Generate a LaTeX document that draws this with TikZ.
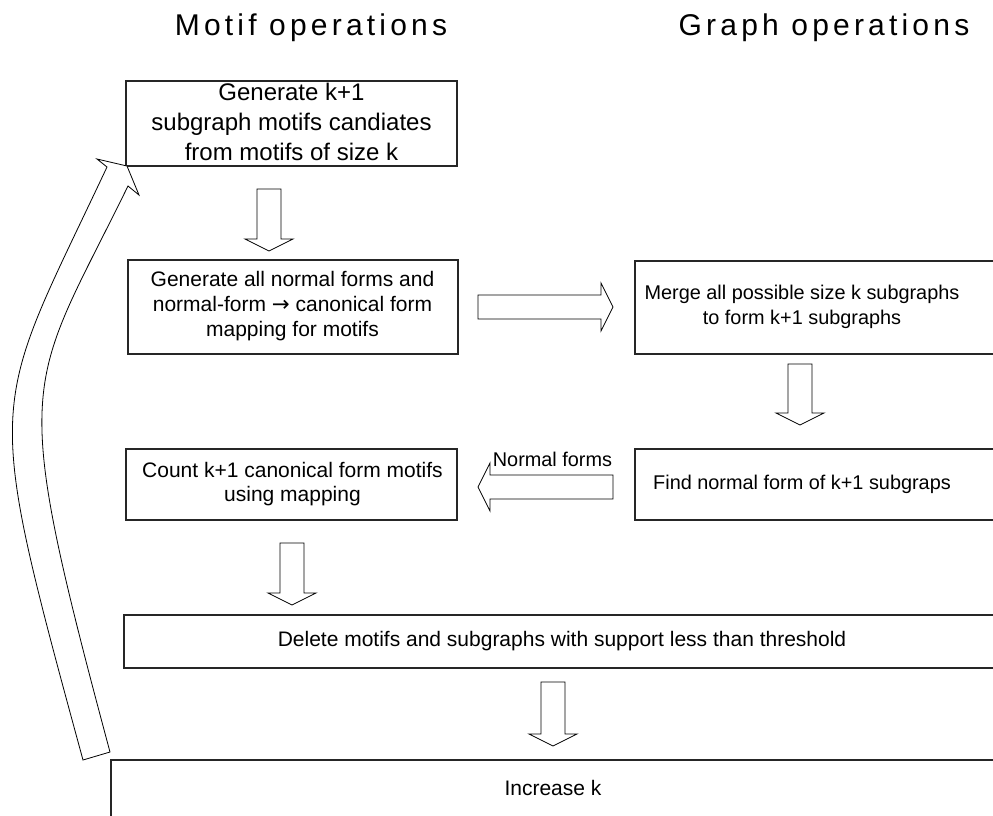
\documentclass[tikz,border=0pt]{standalone}
\usepackage{fontspec}
\setmainfont{Liberation Sans}
\newfontfamily\titlefont[LetterSpace=14]{Liberation Sans}
\newfontfamily\arrowfont{DejaVu Sans}
\newcommand\dnarrow[3]{\draw[blk] (#1-12,#2) -- (#1+12,#2) -- (#1+12,#3-12) -- (#1+24,#3-12) -- (#1,#3) -- (#1-24,#3-12) -- (#1-12,#3-12) -- cycle;}
\begin{document}
\begin{tikzpicture}[x=0.75pt,y=-0.75pt,
  box/.style={draw=black!85, line width=0.9pt, rectangle, inner sep=0pt, outer sep=0pt},
  blk/.style={draw=black, line width=0.6pt, fill=white, line join=miter},
  lbl/.style={font=\fontsize{15.75}{18.5}\selectfont, align=center, inner sep=0pt},
  sml/.style={font=\fontsize{14.9}{18.75}\selectfont, align=center, inner sep=0pt},
  bigl/.style={font=\fontsize{18}{22.2}\selectfont, align=center, inner sep=0pt},
  ttl/.style={font=\titlefont\fontsize{22.5}{27}\selectfont, inner sep=0pt, anchor=base}]
\useasboundingbox (0,0) rectangle (993,815);
\clip (0,0) rectangle (993,815);
\fill[white] (0,0) rectangle (993,815);

% titles
\node[ttl] (tmotif) at (311,35) {Motif operations};
\node[ttl] (tgraph) at (824,35) {Graph operations};

% boxes
\node[box, minimum width=248.25pt, minimum height=63.75pt] (b1) at (291.5,123.5) {};
\node[bigl] (t1) at (291.5,122) {Generate k+1\\subgraph motifs candiates\\from motifs of size k};

\node[box, minimum width=247.5pt, minimum height=70.5pt] (b2) at (293,307) {};
\node[lbl, font=\fontsize{15.75}{18.75}\selectfont] (t2) at (292.5,306) {Generate all normal forms and\\normal-form {\arrowfont\fontsize{16}{16}\selectfont\char"2192} canonical form\\mapping for motifs};

\node[box, minimum width=273.75pt, minimum height=69.75pt] (b3) at (817.5,307.5) {};
\node[sml] (t3) at (802,306.5) {Merge all possible size k subgraphs\\to form k+1 subgraphs};

\node[box, minimum width=273.75pt, minimum height=53.25pt] (b4) at (817.5,484.5) {};
\node[sml] (t4) at (802,484) {Find normal form of k+1 subgraps};

\node[box, minimum width=248.25pt, minimum height=53.25pt] (b5) at (291.5,484.5) {};
\node[lbl] (t5) at (292.5,484) {Count k+1 canonical form motifs\\using mapping};

\node[box, minimum width=657pt, minimum height=39.75pt] (b6) at (562,641.5) {};
\node[lbl] (t6) at (562,641) {Delete motifs and subgraphs with support less than threshold};

\node[box, minimum width=666.75pt, minimum height=60pt] (b7) at (555.5,800) {};
\node[lbl] (t7) at (553,788) {Increase k};

% block arrows
\dnarrow{269}{189}{251}
\dnarrow{800}{364}{425}
\dnarrow{292}{543}{605}
\dnarrow{553}{682}{746}
\draw[blk] (478,295) -- (601,295) -- (601,283) -- (613,307) -- (601,331) -- (601,319) -- (478,319) -- cycle;
\draw[blk] (613,475) -- (490,475) -- (490,463) -- (478,487) -- (490,511) -- (490,499) -- (613,499) -- cycle;
\node[sml, anchor=base] (nf) at (552.5,466) {Normal forms};

% curved return arrow
\draw[blk] (83,760) .. controls (-19,386) and (-10,416) .. (107,167) -- (97,159) -- (127,166) -- (139,195) -- (128,186) .. controls (26.6,393) and (7.4,370) .. (110,752) -- cycle;
\end{tikzpicture}
\end{document}
